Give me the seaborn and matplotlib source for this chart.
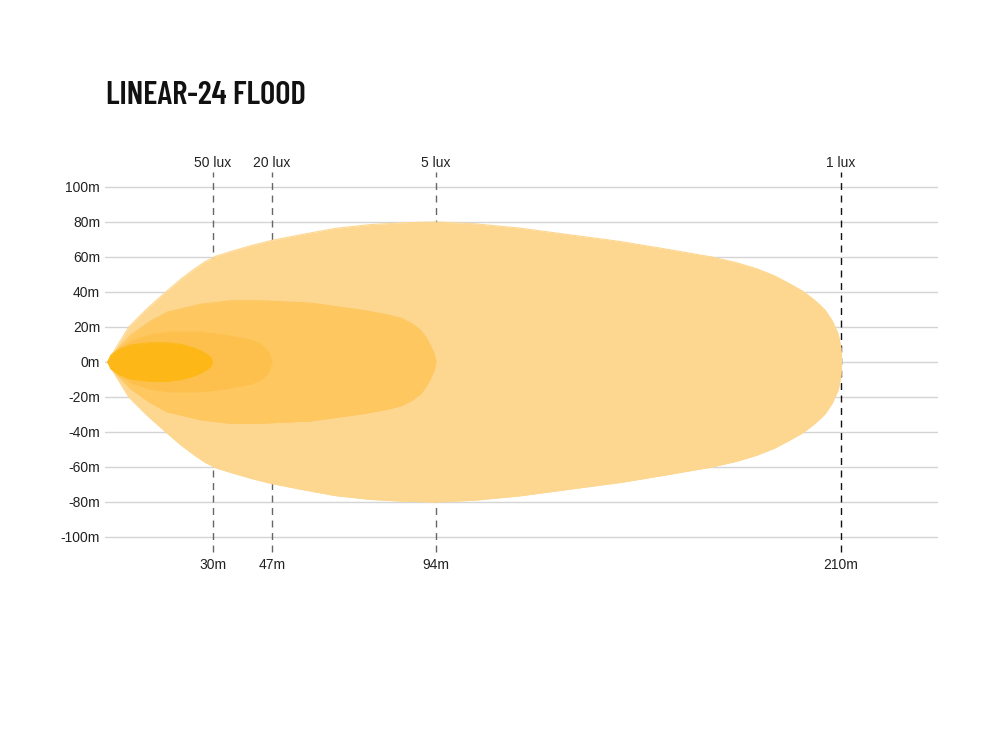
import matplotlib
matplotlib.use("Agg")
import matplotlib.pyplot as plt
import numpy as np
import seaborn as sns

# beam contours, distance (m) -> half width (m)
lux1_dist = [0, 2, 6, 11, 16.6, 21, 25, 28, 31, 35, 41, 47, 56, 65, 75, 85, 94, 105, 118, 133,
             147, 160, 173, 180, 186, 191, 195, 199, 202, 204, 205.5, 207.5, 209.2, 210, 210.2]
lux1_half = [0, 7, 20, 30, 40, 47.5, 53.5, 57.5, 60.5, 63, 66.5, 69.5, 73, 76.3, 78.5, 79.6, 80,
             79, 76.5, 72.5, 68.8, 64.5, 60, 56.8, 53.2, 49.2, 45, 40.5, 36, 32.5, 29.5, 23.5,
             16, 8, 0]

lux5_dist = [0, 3, 6.6, 12, 17, 26.6, 35, 44, 58, 72.5, 80, 84, 87, 89.7, 91.3, 92.5, 93.5, 94]
lux5_half = [0, 8, 15.4, 23, 28.5, 33, 35, 35, 33.7, 29.7, 27, 25, 22, 18, 13.5, 9, 4.5, 0]

lux20_dist = [0, 1.5, 3.7, 7, 12, 18, 26.6, 33, 41, 44, 46, 47]
lux20_half = [0, 4, 8, 12, 15.4, 17, 17, 15.5, 12.6, 10, 6, 0]

lux50_dist = [0, 0.9, 3, 6.6, 12, 17, 21, 24.6, 27, 28.6, 29.5, 30]
lux50_half = [0, 4, 7, 9.7, 11, 11, 10, 8, 6, 4, 2.5, 0]

# reach markers
reach_m = [30, 47, 94, 210]
reach_lux = ["50 lux", "20 lux", "5 lux", "1 lux"]
y_ticks = [100, 80, 60, 40, 20, 0, -20, -40, -60, -80, -100]

colors = ["#FDD78F", "#FEC760", "#FEC04C", "#FDB817"]
line_colors = ["#666666", "#666666", "#666666", "#111111"]

sns.set_theme(style="white")
plt.rcParams['font.family'] = ['Liberation Sans', 'DejaVu Sans']

fig = plt.figure(figsize=(10, 7.5), dpi=100)
ax = fig.add_axes([0.105, 0.2817, 0.833, 0.4713])

# gridlines
ax.set_yticks(y_ticks)
ax.set_yticklabels([f"{v}m" for v in y_ticks])
ax.grid(axis='y', color='#d4d4d4', linewidth=1)
ax.set_axisbelow(True)

# dashed reach lines, they run past the plot area
for d, c in zip(reach_m, line_colors):
    ax.vlines(d, -108.6, 108.6, colors=c, linestyles=(0, (5, 4)), linewidth=1,
              zorder=1, clip_on=False)

contours = [(lux1_dist, lux1_half), (lux5_dist, lux5_half),
            (lux20_dist, lux20_half), (lux50_dist, lux50_half)]
for i, ((d, h), c) in enumerate(zip(contours, colors)):
    d = np.array(d)
    h = np.array(h)
    ax.fill_between(d, -h, h, color=c, linewidth=0, zorder=3 + i)
    sns.lineplot(x=d, y=h, color=c, linewidth=0.8, ax=ax, zorder=3 + i, sort=False)
    sns.lineplot(x=d, y=-h, color=c, linewidth=0.8, ax=ax, zorder=3 + i, sort=False)

for d, lab in zip(reach_m, reach_lux):
    ax.text(d, 113.5, lab, ha='center', va='center', fontsize=10, color='#222222',
            clip_on=False)
    ax.text(d, -116, f"{d}m", ha='center', va='center', fontsize=10, color='#222222',
            clip_on=False)

ax.set_xlim(-0.8, 237.8)
ax.set_ylim(-101, 101)
ax.set_xticks([])
ax.set_xlabel("")
ax.set_ylabel("")
ax.tick_params(axis='y', length=0, pad=3.5, labelsize=10, labelcolor='#222222')
sns.despine(ax=ax, left=True, bottom=True)

fig.text(0.106, 0.8613, "LINEAR-24 FLOOD", fontsize=23.5, fontweight=600,
         family=['Barlow Condensed', 'DejaVu Sans'], color='#111111',
         ha='left', va='baseline')

fig.savefig("out.png", dpi=100, facecolor='white')
